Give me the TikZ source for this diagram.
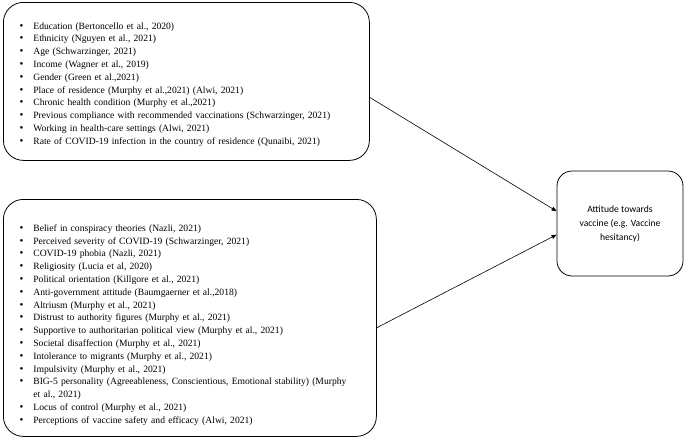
\documentclass[tikz,border=0pt]{standalone}
\usepackage{fontspec}
\setmainfont{Liberation Serif}
\newfontfamily\calibrifont{Carlito}
\usepackage{enumitem}
\usetikzlibrary{arrows.meta, positioning}
\setlist[itemize]{nosep, leftmargin=26pt, labelsep=10pt, label={\fontsize{11}{11}\selectfont\textbullet}}

\begin{document}
\begin{tikzpicture}[x=1pt, y=-1pt,
  factorbox/.style={draw, line width=0.8pt, rounded corners=20pt, anchor=north west,
    inner xsep=4pt, inner ysep=0pt, font=\fontsize{9.6}{12.8}\selectfont},
  outcomebox/.style={draw, line width=0.8pt, rounded corners=15pt, align=center,
    minimum width=126pt, minimum height=105pt, font=\calibrifont\fontsize{9.6}{14}\selectfont},
  linkarrow/.style={-{Triangle[length=5pt,width=4pt]}, line width=0.6pt}]
  \useasboundingbox (0,0) rectangle (685,439);

  % Socio-demographic factors
  \node[factorbox, text width=358pt, minimum height=158pt] (demographic) at (3,2) {%
    \begin{itemize}
      \item Education (Bertoncello et al., 2020)
      \item Ethnicity (Nguyen et al., 2021)
      \item Age (Schwarzinger, 2021)
      \item Income (Wagner et al., 2019)
      \item Gender (Green et al.,2021)
      \item Place of residence (Murphy et al.,2021) (Alwi, 2021)
      \item Chronic health condition (Murphy et al.,2021)
      \item Previous compliance with recommended vaccinations (Schwarzinger, 2021)
      \item Working in health-care settings (Alwi, 2021)
      \item Rate of COVID-19 infection in the country of residence (Qunaibi, 2021)
    \end{itemize}};

  % Psychological factors
  \node[factorbox, text width=365pt, minimum height=237pt] (psychological) at (3,199) {%
    \vspace*{8pt}
    \begin{itemize}
      \item Belief in conspiracy theories (Nazli, 2021)
      \item Perceived severity of COVID-19 (Schwarzinger, 2021)
      \item COVID-19 phobia (Nazli, 2021)
      \item Religiosity (Lucia et al, 2020)
      \item Political orientation (Killgore et al., 2021)
      \item Anti-government attitude (Baumgaerner et al.,2018)
      \item Altriusm (Murphy et al., 2021)
      \item Distrust to authority figures (Murphy et al., 2021)
      \item Supportive to authoritarian political view (Murphy et al., 2021)
      \item Societal disaffection (Murphy et al., 2021)
      \item Intolerance to migrants (Murphy et al., 2021)
      \item Impulsivity (Murphy et al., 2021)
      \item BIG-5 personality (Agreeableness, Conscientious, Emotional stability) (Murphy\newline et al., 2021)
      \item Locus of control (Murphy et al., 2021)
      \item Perceptions of vaccine safety and efficacy (Alwi, 2021)
    \end{itemize}};

  % Outcome
  \node[outcomebox] (attitude) at (620,223.5) {Attitude towards\\vaccine (e.g. Vaccine\\hesitancy)};

  \draw[linkarrow] (demographic.-5.3) -- (attitude.169);
  \draw[linkarrow] (psychological.-3.8) -- (attitude.-170.7);
\end{tikzpicture}
\end{document}
